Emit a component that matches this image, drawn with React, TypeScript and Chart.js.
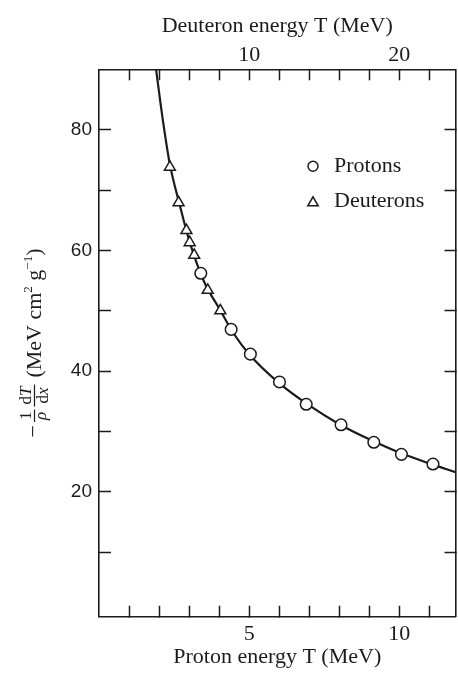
import React, { useEffect, useRef } from 'react';
import { Chart, registerables } from 'chart.js';

Chart.register(...registerables);

// ---- data ----
// Protons: proton energy T (MeV) vs stopping power -1/rho dT/dx (MeV cm^2 g^-1)
const protonT = [3.39, 4.4, 5.04, 6.01, 6.9, 8.06, 9.15, 10.07, 11.12];
const protonS = [56.2, 46.9, 42.8, 38.2, 34.5, 31.1, 28.2, 26.2, 24.6];
// Deuterons: deuteron energy T (MeV, top axis)
const deuteronT = [4.72, 5.3, 5.82, 6.04, 6.34, 7.24, 8.08];
const deuteronS = [73.8, 67.9, 63.3, 61.3, 59.2, 53.4, 50.0];
// Smooth curve (proton energy scale)
const curveT = [1.9, 2.1, 2.35, 2.7, 3.0, 3.5, 4.0, 4.5, 5.0, 6.0, 7.0, 8.0, 9.0, 10.0, 11.0, 11.9];
const curveS = [90, 82.5, 74.5, 67.3, 61.7, 54.8, 50.4, 46.1, 42.8, 38.0, 34.3, 31.2, 28.7, 26.5, 24.7, 23.2];

// ticks
const protonTicks = [1, 2, 3, 4, 5, 6, 7, 8, 9, 10, 11];
const protonLabels = [5, 10];
const deuteronTicks = [2, 4, 6, 8, 10, 12, 14, 16, 18, 20, 22];
const deuteronLabels = [10, 20];
const yTicks = [10, 20, 30, 40, 50, 60, 70, 80];
const yLabels = [20, 40, 60, 80];

const protonMax = 11.87;
const deuteronMax = protonMax * 2;
const yMin = -0.7;
const yMax = 90;

const ink = '#1b1b1b';
const serif = '"Liberation Serif", "Times New Roman", serif';
const sans = '"Liberation Sans", Arial, sans-serif';

const decorPlugin = {
  id: 'decor',
  afterDraw(chart: any) {
    const ctx: CanvasRenderingContext2D = chart.ctx;
    const area = chart.chartArea;

    // ---- y-axis title: − (1/ρ)(dT/dx) (MeV cm² g⁻¹) ----
    ctx.save();
    ctx.translate(area.left - 65, (area.top + area.bottom) / 2);
    ctx.rotate(-Math.PI / 2);
    ctx.fillStyle = ink;
    ctx.strokeStyle = ink;
    ctx.textBaseline = 'alphabetic';
    ctx.textAlign = 'left';
    const main = `22px ${serif}`;
    const small = `17px ${serif}`;
    const smallIt = `italic 17px ${serif}`;
    const sup = `13px ${serif}`;
    const meas = (t: string, f: string) => { ctx.font = f; return ctx.measureText(t).width; };
    const wMinus = meas('−', main);
    const w1 = meas('1', small);
    const wRho = meas('ρ', smallIt);
    const wF1 = Math.max(w1, wRho) + 4;
    const wdT = meas('d', small) + meas('T', smallIt);
    const wdx = meas('d', small) + meas('x', smallIt);
    const wF2 = Math.max(wdT, wdx) + 4;
    const pieces: [string, string, number][] = [
      ['(MeV cm', main, 0],
      ['2', sup, -9],
      [' g', main, 0],
      ['−1', sup, -9],
      [')', main, 0],
    ];
    const wUnits = pieces.reduce((s, p) => s + meas(p[0], p[1]), 0);
    const gap = 3;
    const space = 7;
    const total = wMinus + gap + wF1 + gap + wF2 + space + wUnits;
    let u = -total / 2;
    const base = 7;
    // minus
    ctx.font = main;
    ctx.fillText('−', u, base - 1);
    u += wMinus + gap;
    // 1/ρ
    ctx.lineWidth = 1.2;
    ctx.beginPath();
    ctx.moveTo(u, 0.5);
    ctx.lineTo(u + wF1, 0.5);
    ctx.stroke();
    ctx.font = small;
    ctx.fillText('1', u + (wF1 - w1) / 2, -3);
    ctx.font = smallIt;
    ctx.fillText('ρ', u + (wF1 - wRho) / 2, 12);
    u += wF1 + gap;
    // dT/dx
    ctx.beginPath();
    ctx.moveTo(u, 0.5);
    ctx.lineTo(u + wF2, 0.5);
    ctx.stroke();
    let uu = u + (wF2 - wdT) / 2;
    ctx.font = small; ctx.fillText('d', uu, -3); uu += meas('d', small);
    ctx.font = smallIt; ctx.fillText('T', uu, -3);
    uu = u + (wF2 - wdx) / 2;
    ctx.font = small; ctx.fillText('d', uu, 14); uu += meas('d', small);
    ctx.font = smallIt; ctx.fillText('x', uu, 14);
    u += wF2 + space;
    // units
    for (const [t, f, dv] of pieces) {
      ctx.font = f;
      ctx.fillText(t, u, base + dv);
      u += ctx.measureText(t).width;
    }
    ctx.restore();

    // ---- legend ----
    ctx.save();
    const mx = area.left + 214;
    const r1 = area.top + 97;
    const r2 = r1 + 35.5;
    ctx.lineWidth = 1.5;
    ctx.strokeStyle = ink;
    ctx.fillStyle = '#fff';
    ctx.beginPath();
    ctx.arc(mx, r1, 5, 0, Math.PI * 2);
    ctx.fill();
    ctx.stroke();
    const tr = 6;
    ctx.beginPath();
    for (let i = 0; i < 3; i++) {
      const a = (i * 2 * Math.PI) / 3;
      const px = mx + Math.sin(a) * tr;
      const py = r2 + 1 - Math.cos(a) * tr;
      if (i === 0) ctx.moveTo(px, py); else ctx.lineTo(px, py);
    }
    ctx.closePath();
    ctx.fill();
    ctx.stroke();
    ctx.fillStyle = ink;
    ctx.font = `22px ${serif}`;
    ctx.textBaseline = 'middle';
    ctx.textAlign = 'left';
    ctx.fillText('Protons', mx + 21, r1 - 0.5);
    ctx.fillText('Deuterons', mx + 21, r2 - 1);
    ctx.restore();
  },
};

export default function App() {
  const ref = useRef<HTMLCanvasElement>(null);

  useEffect(() => {
    const canvas = ref.current;
    if (!canvas) return;

    const curve = curveT.map((t, i) => ({ x: t, y: curveS[i] }));
    const protons = protonT.map((t, i) => ({ x: t, y: protonS[i] }));
    const deuterons = deuteronT.map((t, i) => ({ x: t, y: deuteronS[i] }));

    const gridCfg = (len: number) => ({
      drawOnChartArea: false,
      drawTicks: true,
      tickLength: len,
      tickWidth: 1.5,
      tickColor: ink,
    });
    const borderCfg = { display: true, color: ink, width: 1.6 };

    const chart = new Chart(canvas, {
      type: 'scatter',
      data: {
        datasets: [
          {
            label: 'Protons',
            data: protons,
            xAxisID: 'x',
            yAxisID: 'y',
            pointStyle: 'circle',
            pointRadius: 5.8,
            pointHoverRadius: 5.8,
            pointBorderWidth: 1.5,
            pointBackgroundColor: '#ffffff',
            pointBorderColor: ink,
            showLine: false,
            order: 1,
          },
          {
            label: 'Deuterons',
            data: deuterons,
            xAxisID: 'x2',
            yAxisID: 'y',
            pointStyle: 'triangle',
            pointRadius: 6.3,
            pointHoverRadius: 6.3,
            pointBorderWidth: 1.5,
            pointBackgroundColor: '#ffffff',
            pointBorderColor: ink,
            showLine: false,
            order: 2,
          },
          {
            label: 'curve',
            data: curve,
            xAxisID: 'x',
            yAxisID: 'y',
            showLine: true,
            pointRadius: 0,
            pointHoverRadius: 0,
            borderColor: ink,
            borderWidth: 2.2,
            cubicInterpolationMode: 'monotone',
            fill: false,
            order: 3,
          } as any,
        ],
      },
      options: {
        animation: false,
        responsive: true,
        maintainAspectRatio: false,
        layout: { padding: 0, autoPadding: false },
        plugins: {
          legend: { display: false },
          tooltip: { enabled: false },
        },
        scales: {
          x: {
            type: 'linear',
            position: 'bottom',
            min: 0,
            max: protonMax,
            afterBuildTicks: (s: any) => { s.ticks = protonTicks.map((v) => ({ value: v })); },
            afterFit: (s: any) => { s.height = 57.3; },
            ticks: {
              autoSkip: false,
              maxRotation: 0,
              padding: 15,
              color: ink,
              font: { family: serif, size: 22 },
              callback: (v: any) => (protonLabels.includes(Number(v)) ? String(v) : ''),
            },
            grid: gridCfg(-11),
            border: borderCfg,
            title: {
              display: true,
              text: 'Proton energy T (MeV)',
              color: ink,
              font: { family: serif, size: 22 },
              padding: { top: 0, bottom: 4 },
            },
          },
          x2: {
            type: 'linear',
            position: 'top',
            min: 0,
            max: deuteronMax,
            afterBuildTicks: (s: any) => { s.ticks = deuteronTicks.map((v) => ({ value: v })); },
            afterFit: (s: any) => { s.height = 69.3; },
            ticks: {
              autoSkip: false,
              maxRotation: 0,
              padding: 12,
              color: ink,
              font: { family: serif, size: 22 },
              callback: (v: any) => (deuteronLabels.includes(Number(v)) ? String(v) : ''),
            },
            grid: gridCfg(-11),
            border: borderCfg,
            title: {
              display: true,
              text: 'Deuteron energy T (MeV)',
              color: ink,
              font: { family: serif, size: 22 },
              padding: { top: 13, bottom: 0 },
            },
          },
          y: {
            type: 'linear',
            position: 'left',
            min: yMin,
            max: yMax,
            afterBuildTicks: (s: any) => { s.ticks = yTicks.map((v) => ({ value: v })); },
            afterFit: (s: any) => { s.width = 99; },
            ticks: {
              autoSkip: false,
              padding: 19,
              color: ink,
              font: { family: sans, size: 19 },
              callback: (v: any) => (yLabels.includes(Number(v)) ? String(v) : ''),
            },
            grid: gridCfg(-12),
            border: borderCfg,
          },
          y2: {
            type: 'linear',
            position: 'right',
            min: yMin,
            max: yMax,
            afterBuildTicks: (s: any) => { s.ticks = yTicks.map((v) => ({ value: v })); },
            afterFit: (s: any) => { s.width = 2.5; },
            ticks: { display: false },
            grid: gridCfg(-11),
            border: borderCfg,
          },
        },
      } as any,
      plugins: [decorPlugin],
    });

    return () => chart.destroy();
  }, []);

  return (
    <div style={{ position: 'absolute', left: 0, top: 0, width: 458, height: 674, background: '#ffffff' }}>
      <canvas ref={ref} />
    </div>
  );
}
